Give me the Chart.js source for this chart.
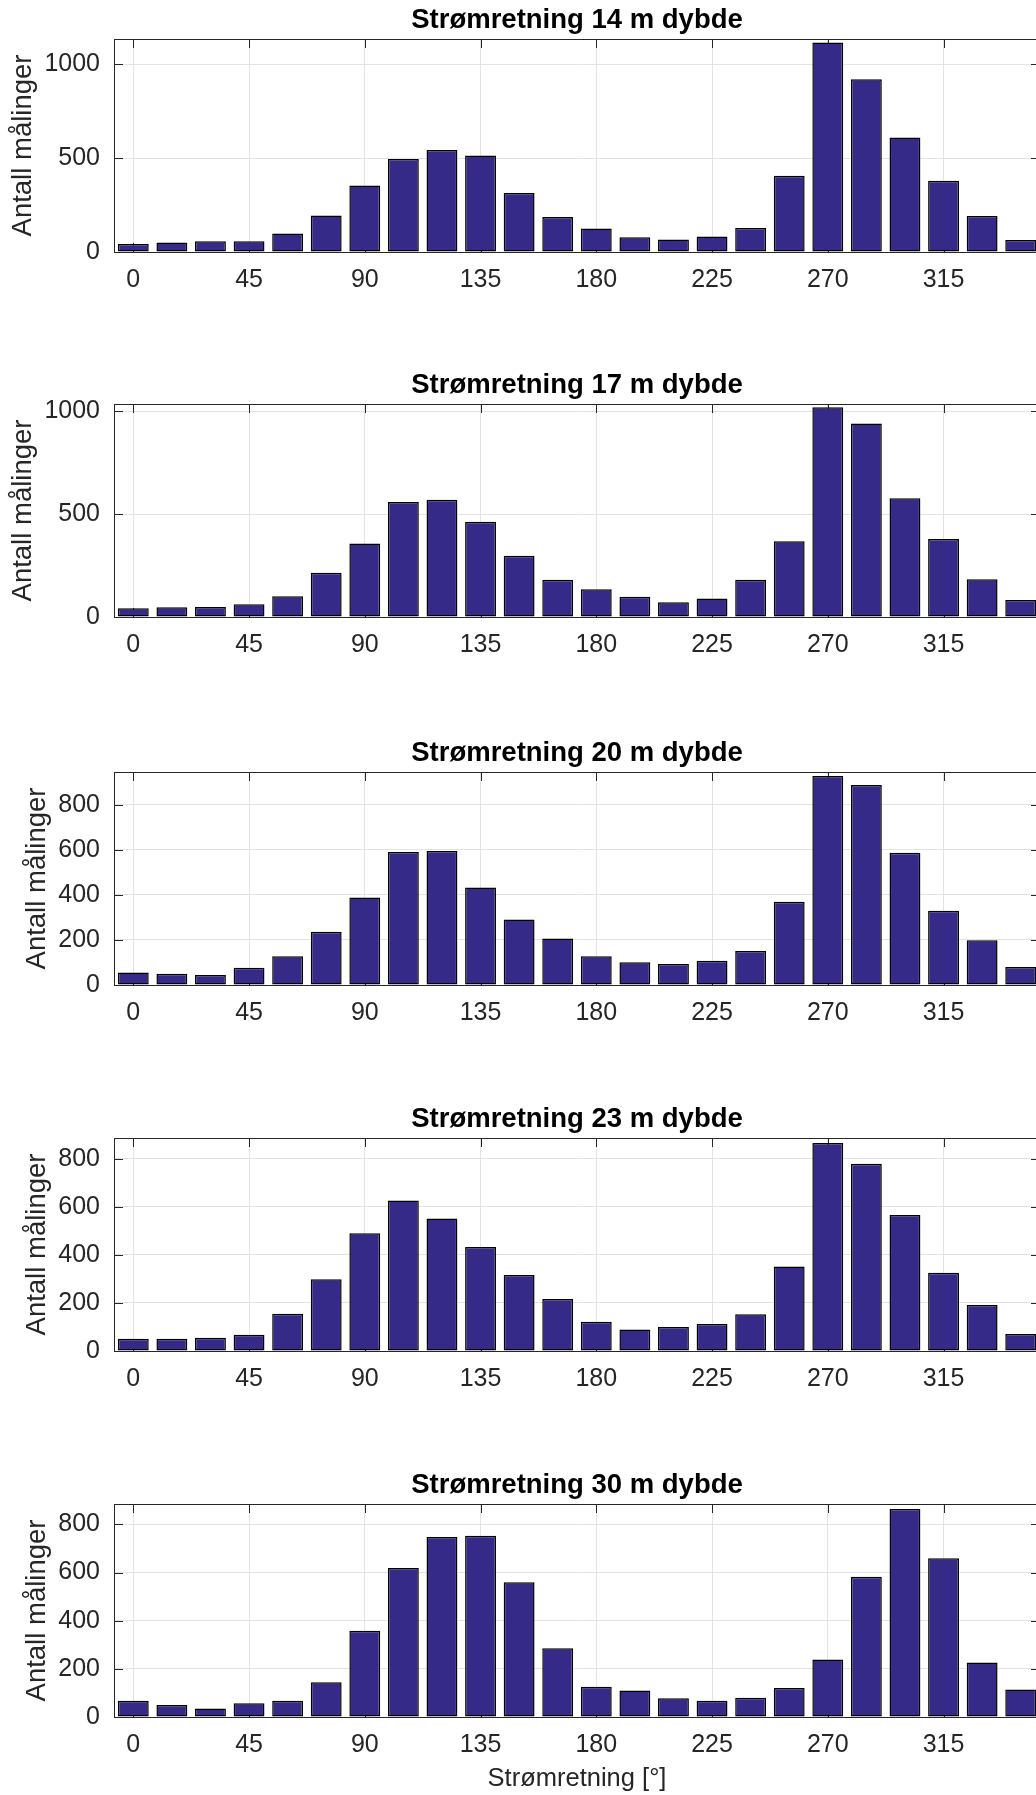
<!DOCTYPE html>
<html>
<head>
<meta charset="utf-8">
<script src="https://cdn.jsdelivr.net/npm/chart.js@4.4.1/dist/chart.umd.min.js"></script>
<style>
  html, body { margin: 0; padding: 0; background: #fff; overflow: hidden; }
  #wrap { position: relative; width: 1036px; height: 1795px; overflow: hidden; background: #fff; }
  canvas { position: absolute; left: 0; }
</style>
</head>
<body>
<div id="wrap"></div>
<script>
// ---- data ----
const directions = [0, 15, 30, 45, 60, 75, 90, 105, 120, 135, 150, 165, 180, 195, 210, 225, 240, 255, 270, 285, 300, 315, 330, 345];
const xTickValues = [0, 45, 90, 135, 180, 225, 270, 315];
const depths = ["14", "17", "20", "23", "30"];
const counts14 = [43, 50, 57, 57, 98, 194, 354, 496, 543, 514, 315, 187, 125, 78, 66, 82, 128, 406, 1117, 921, 610, 379, 192, 64];
const counts17 = [42, 47, 49, 62, 101, 215, 357, 559, 570, 463, 298, 181, 135, 98, 72, 90, 181, 368, 1020, 941, 577, 379, 184, 83];
const counts20 = [56, 50, 44, 76, 127, 236, 388, 590, 594, 433, 291, 206, 127, 101, 93, 108, 151, 369, 927, 887, 587, 329, 199, 80];
const counts23 = [51, 51, 55, 68, 155, 298, 490, 626, 551, 433, 316, 216, 122, 89, 100, 112, 153, 351, 865, 779, 566, 325, 191, 71];
const counts30 = [68, 50, 35, 57, 68, 144, 358, 619, 748, 753, 560, 286, 126, 110, 78, 68, 80, 121, 239, 583, 864, 660, 226, 114];
const yTicksA = [0, 500, 1000];
const yTicksB = [0, 200, 400, 600, 800];
const yMaxes = [1135, 1036, 945, 886, 885];
const titlePrefix = "Strømretning ";
const titleSuffix = " m dybde";
const yLabel = "Antall målinger";
const xLabel = "Strømretning [°]";

// ---- layout ----
const allCounts = [counts14, counts17, counts20, counts23, counts30];
const allYTicks = [yTicksA, yTicksA, yTicksB, yTicksB, yTicksB];
const axisTops = [39, 404.3, 772, 1138, 1504.3];
const TITLE_H = 39, AXIS_H = 213;
const FONT = "'Liberation Sans', Arial, Helvetica, sans-serif";
const INK = '#262626';

Chart.defaults.font.family = FONT;
Chart.defaults.color = INK;

const framePlugin = {
  id: 'frame',
  beforeDatasetsDraw(chart) {
    const {ctx, chartArea: a, scales: {x, y}} = chart;
    const L = 9;
    ctx.save();
    ctx.strokeStyle = INK;
    ctx.lineWidth = 1;
    ctx.beginPath();
    x.ticks.forEach(t => {
      const px = Math.round(x.getPixelForValue(t.value)) + 0.5;
      ctx.moveTo(px, a.top); ctx.lineTo(px, a.top + L);
      ctx.moveTo(px, a.bottom); ctx.lineTo(px, a.bottom - L);
    });
    y.ticks.forEach(t => {
      const py = Math.round(y.getPixelForValue(t.value)) + 0.5;
      ctx.moveTo(a.left, py); ctx.lineTo(a.left + L, py);
      ctx.moveTo(a.right, py); ctx.lineTo(a.right - L, py);
    });
    ctx.stroke();
    ctx.strokeRect(Math.round(a.left) + 0.5, Math.round(a.top) + 0.5, Math.round(a.width), Math.round(a.height));
    ctx.restore();
  }
};

const wrap = document.getElementById('wrap');
depths.forEach((depth, i) => {
  const isLast = i === depths.length - 1;
  const xAxisH = isLast ? 80 : 60;
  const W = 1060, H = TITLE_H + AXIS_H + xAxisH;
  const cv = document.createElement('canvas');
  cv.width = W; cv.height = H;
  cv.style.width = W + 'px'; cv.style.height = H + 'px';
  cv.style.top = (axisTops[i] - TITLE_H) + 'px';
  wrap.appendChild(cv);
  const counts = allCounts[i];
  const yt = allYTicks[i];
  const wide = yt[yt.length - 1] >= 1000;
  new Chart(cv, {
    type: 'bar',
    data: {
      datasets: [{
        data: directions.map((d, k) => ({x: d, y: counts[k]})),
        backgroundColor: '#352A87',
        borderColor: '#000000',
        borderWidth: 1.5,
        borderSkipped: false,
        barPercentage: 0.8,
        categoryPercentage: 1.0
      }]
    },
    options: {
      responsive: false,
      animation: false,
      devicePixelRatio: 1,
      layout: {padding: {left: 0, top: 0, right: 20, bottom: 0}},
      plugins: {
        legend: {display: false},
        tooltip: {enabled: false},
        title: {
          display: true,
          fullSize: false,
          text: titlePrefix + depth + titleSuffix,
          color: '#000',
          font: {size: 27.5, weight: 'bold', family: FONT, lineHeight: 1.2},
          padding: {top: 4, bottom: 2}
        }
      },
      scales: {
        x: {
          type: 'linear',
          min: -7.5,
          max: 352.5,
          offset: false,
          afterBuildTicks: s => { s.ticks = xTickValues.map(v => ({value: v})); },
          afterFit: s => { s.height = xAxisH; },
          ticks: {font: {size: 25, family: FONT, lineHeight: 1.2}, color: INK, padding: 13, maxRotation: 0, autoSkip: false, callback: v => String(v)},
          grid: {color: '#e3e3e3', lineWidth: 1, drawTicks: false, offset: false},
          border: {color: INK, width: 1},
          title: {
            display: isLast,
            text: xLabel,
            color: INK,
            font: {size: 25.5, family: FONT, lineHeight: 1.2},
            padding: {top: 0, bottom: 2.7}
          }
        },
        y: {
          min: 0,
          max: yMaxes[i],
          afterBuildTicks: s => { s.ticks = yt.map(v => ({value: v})); },
          afterFit: s => { s.width = 114; },
          ticks: {font: {size: 25, family: FONT, lineHeight: 1.2}, color: INK, padding: 14, callback: v => String(v)},
          grid: {color: '#e3e3e3', lineWidth: 1, drawTicks: false},
          border: {color: INK, width: 1},
          title: {
            display: true,
            text: yLabel,
            color: INK,
            font: {size: 27.5, family: FONT, lineHeight: 1.2},
            padding: {top: wide ? 7 : 21, bottom: 0}
          }
        }
      }
    },
    plugins: [framePlugin]
  });
});
</script>
</body>
</html>
